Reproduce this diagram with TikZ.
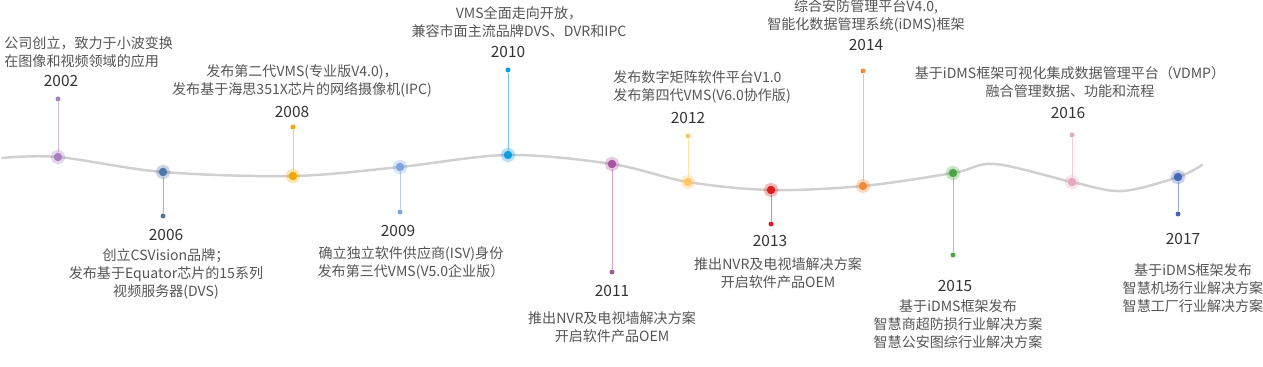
\documentclass[tikz,border=0pt]{standalone}
\usepackage{fontspec}
\setmainfont{Noto Sans CJK SC}
\usetikzlibrary{
    backgrounds                       % track and stems behind the dots
}
\definecolor{lilac}{RGB}{168,128,192}
\definecolor{steel}{RGB}{78,118,168}
\definecolor{amber}{RGB}{242,168,0}
\definecolor{sky}{RGB}{125,165,225}
\definecolor{azure}{RGB}{16,157,222}
\definecolor{plum}{RGB}{168,86,160}
\definecolor{butter}{RGB}{255,200,100}
\definecolor{crimson}{RGB}{222,30,30}
\definecolor{tangerine}{RGB}{242,140,60}
\definecolor{leaf}{RGB}{76,164,70}
\definecolor{rose}{RGB}{228,168,192}
\definecolor{royal}{RGB}{72,102,184}
\definecolor{track_gray}{RGB}{208,208,208}
\definecolor{text_gray}{RGB}{85,85,85}
\definecolor{year_gray}{RGB}{51,51,51}
\tikzset{
    track/.style={
        draw=track_gray, line width=1.4pt, line cap=round
    },
    stem/.style={
        draw=#1!55, line width=0.55pt
    },
    milestone/.style={
        circle, inner sep=0pt, minimum size=0.17cm, fill=#1,
        preaction={draw=#1, draw opacity=0.3, line width=0.12cm}
    },
    stemend/.style={
        circle, inner sep=0pt, minimum size=0.1cm, fill=#1
    },
    yearlabel/.style={
        inner sep=0pt, font=\fontsize{8.8}{10}\selectfont, text=year_gray
    },
    blurb/.style={
        inner sep=0pt, align=center,
        font=\fontsize{8}{10.2}\selectfont, text=text_gray
    }
}

\begin{document}
\begin{tikzpicture}[x=0.02cm, y=-0.02cm]
    \useasboundingbox (0,0) rectangle (1263,367);

    % --- Hitos sobre la curva: punto, extremo del tallo y anio ---
    \foreach \yr/\col/\x/\y/\ty/\yx/\yy in {
        2002/lilac/58/157/99/61/81,
        2006/steel/163/172/216/166/235,
        2008/amber/293/176/127/292/112,
        2009/sky/400/167/212/398/231,
        2010/azure/508/155/70/508/52,
        2011/plum/612/164/272/612/291,
        2012/butter/688/182/136/688/118,
        2013/crimson/771/190/224/770/241,
        2014/tangerine/863/186/71/866/45,
        2015/leaf/953/173/255/955/286,
        2016/rose/1072/182/135/1068/113,
        2017/royal/1178/177/214/1183/239}
    {
        \node[milestone=\col] (m\yr) at (\x,\y) {};
        \node[stemend=\col] (e\yr) at (\x,\ty) {};
        \node[yearlabel] (y\yr) at (\yx,\yy) {\yr};
    }

    % --- Textos de cada hito ---
    \node[blurb, align=left, anchor=west] (n2002) at (4,52.5)
        {公司创立，致力于小波变换\\在图像和视频领域的应用};
    \node[blurb] (n2006) at (166,274)
        {创立CSVision品牌；\\发布基于Equator芯片的15系列\\视频服务器(DVS)};
    \node[blurb] (n2008) at (302,81)
        {发布第二代VMS(专业版V4.0)，\\发布基于海思351X芯片的网络摄像机(IPC)};
    \node[blurb] (n2009) at (411,262.5)
        {确立独立软件供应商(ISV)身份\\发布第三代VMS(V5.0企业版）};
    \node[blurb] (n2010) at (519,22)
        {VMS全面走向开放，\\兼容市面主流品牌DVS、DVR和IPC};
    \node[blurb] (n2011) at (612,327)
        {推出NVR及电视墙解决方案\\开启软件产品OEM};
    \node[blurb, align=left, anchor=west] (n2012) at (613,87)
        {发布数字矩阵软件平台V1.0\\发布第四代VMS(V6.0协作版)};
    \node[blurb] (n2013) at (778,273)
        {推出NVR及电视墙解决方案\\开启软件产品OEM};
    \node[blurb] (n2014) at (866,16)
        {综合安防管理平台V4.0,\\智能化数据管理系统(iDMS)框架};
    \node[blurb] (n2015) at (958,324)
        {基于iDMS框架发布\\智慧商超防损行业解决方案\\智慧公安图综行业解决方案};
    \node[blurb] (n2016) at (1070,82.5)
        {基于iDMS框架可视化集成数据管理平台（VDMP）\\融合管理数据、功能和流程};
    \node[blurb] (n2017) at (1193,288)
        {基于iDMS框架发布\\智慧机场行业解决方案\\智慧工厂行业解决方案};

    % --- Curva y tallos detras de los puntos ---
    \begin{scope}[on background layer]
        \draw[track] plot[smooth, tension=0.55] coordinates {
            (2,158) (58,157) (163,172) (293,176) (400,167) (508,155)
            (612,164) (688,182) (771,190) (863,186) (953,173) (995,164)
            (1072,182) (1122,191) (1178,177) (1202,165)};
        \foreach \yr/\col in {2002/lilac, 2006/steel, 2008/amber, 2009/sky,
                2010/azure, 2011/plum, 2012/butter, 2013/crimson,
                2014/tangerine, 2015/leaf, 2016/rose, 2017/royal}
            \draw[stem=\col] (m\yr) -- (e\yr);
    \end{scope}
\end{tikzpicture}
\end{document}
